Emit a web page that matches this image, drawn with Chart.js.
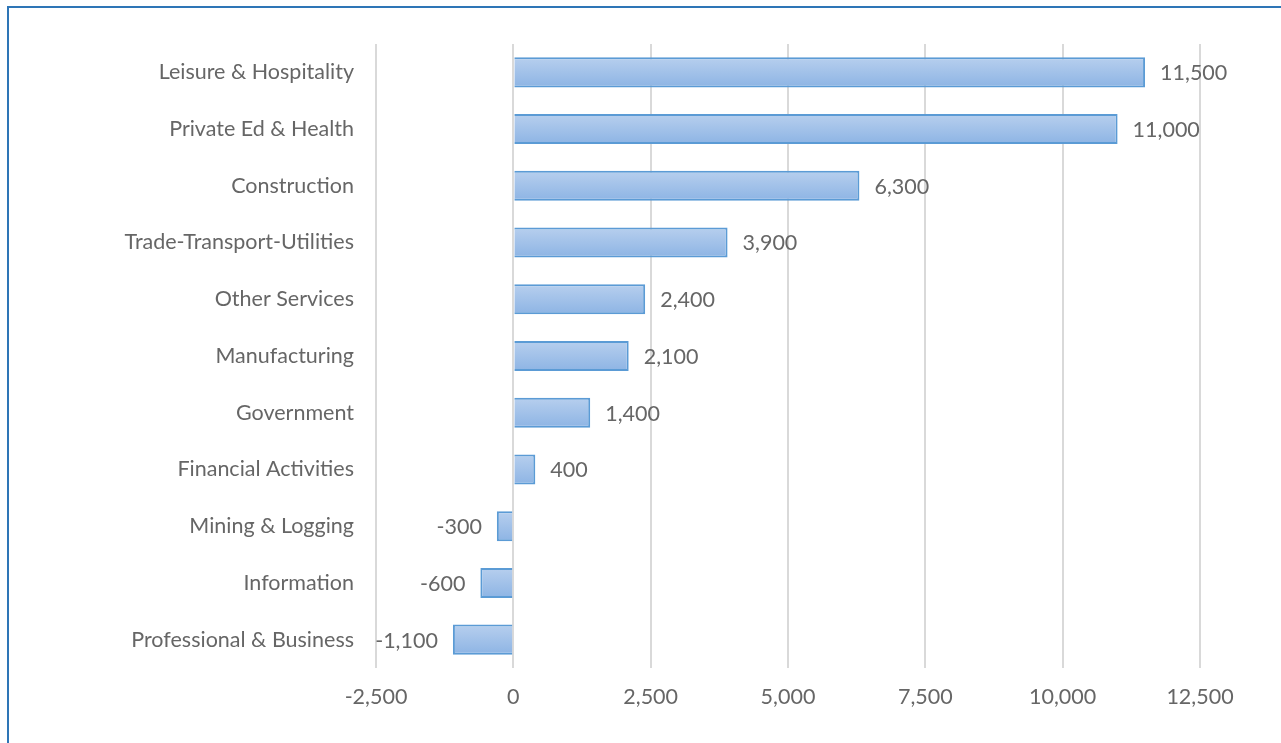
<!DOCTYPE html>
<html>
<head>
<meta charset="utf-8">
<script src="https://cdn.jsdelivr.net/npm/chart.js@4/dist/chart.umd.min.js"></script>
<style>
  html, body { margin: 0; padding: 0; background: #fff; overflow: hidden; }
  #wrap { position: relative; width: 1281px; height: 743px; }
  #frame { position: absolute; left: 7px; top: 6px; width: 1400px; height: 900px;
           border: 2px solid #2E75B6; pointer-events: none; }
</style>
</head>
<body>
<div id="wrap">
  <canvas id="chart" width="1281" height="743"></canvas>
  <div id="frame"></div>
</div>
<script>
// categories top to bottom
const categories = [
  'Leisure & Hospitality', 'Private Ed & Health', 'Construction',
  'Trade-Transport-Utilities', 'Other Services', 'Manufacturing',
  'Government', 'Financial Activities', 'Mining & Logging',
  'Information', 'Professional & Business'
];
const values = [11500, 11000, 6300, 3900, 2400, 2100, 1400, 400, -300, -600, -1100];
const xMin = -2500;
const xMax = 12500;
const xStep = 2500;

const FONT = '"Lato", "Open Sans", sans-serif';
const FSIZE = 21.5;
const GRAY = '#666666';
const BAR_PCT = 0.53;

function fmt(v) {
  return v.toLocaleString('en-US');
}

// vertical gradient per bar, like the Excel fill
function barFill(ctx) {
  const chart = ctx.chart;
  const y = chart.scales.y;
  if (!chart.chartArea || !y) return '#9DBDE6';
  const c = y.getPixelForValue(ctx.dataIndex);
  const h = (chart.chartArea.bottom - chart.chartArea.top) / categories.length * BAR_PCT;
  const g = chart.ctx.createLinearGradient(0, c - h / 2, 0, c + h / 2);
  g.addColorStop(0, '#B7CFEE');
  g.addColorStop(1, '#8DB4E4');
  return g;
}

// value labels at the end of each bar
const valueLabels = {
  id: 'valueLabels',
  afterDatasetsDraw(chart) {
    const ctx = chart.ctx;
    const meta = chart.getDatasetMeta(0);
    ctx.save();
    ctx.font = FSIZE + 'px ' + FONT;
    ctx.fillStyle = GRAY;
    ctx.textBaseline = 'middle';
    meta.data.forEach((bar, i) => {
      const v = values[i];
      if (v >= 0) {
        ctx.textAlign = 'left';
        ctx.fillText(fmt(v), bar.x + 15, bar.y + 1);
      } else {
        ctx.textAlign = 'right';
        ctx.fillText(fmt(v), bar.x - 15, bar.y + 1);
      }
    });
    ctx.restore();
  }
};

new Chart(document.getElementById('chart').getContext('2d'), {
  type: 'bar',
  data: {
    labels: categories,
    datasets: [{
      data: values,
      backgroundColor: barFill,
      borderColor: '#5B9BD5',
      borderWidth: 2,
      barPercentage: BAR_PCT,
      categoryPercentage: 1
    }]
  },
  options: {
    indexAxis: 'y',
    responsive: false,
    animation: false,
    layout: { padding: { top: 44, right: 81, left: 0, bottom: 0 } },
    plugins: {
      legend: { display: false },
      tooltip: { enabled: false }
    },
    scales: {
      x: {
        min: xMin,
        max: xMax,
        ticks: {
          stepSize: xStep,
          color: GRAY,
          font: { family: FONT, size: FSIZE },
          padding: 16,
          callback: (v) => fmt(v)
        },
        grid: { color: '#D9D9D9', lineWidth: 2, drawTicks: false },
        border: { display: false },
        afterFit(scale) { scale.height = 75; }
      },
      y: {
        ticks: {
          color: GRAY,
          font: { family: FONT, size: FSIZE },
          padding: 14
        },
        grid: { display: false },
        border: { display: false },
        afterFit(scale) { scale.width = 376; }
      }
    }
  },
  plugins: [valueLabels]
});
</script>
</body>
</html>
